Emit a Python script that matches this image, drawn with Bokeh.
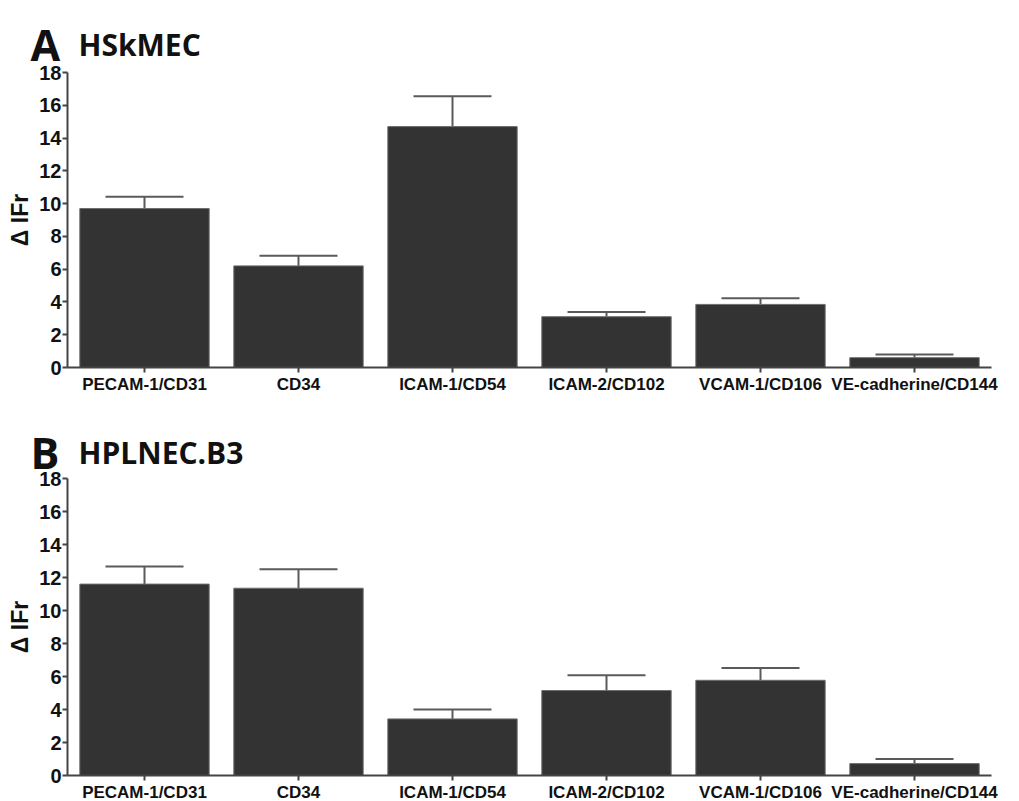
from bokeh.plotting import figure
from bokeh.models import Whisker, TeeHead, ColumnDataSource, Label, Range1d, FixedTicker
from bokeh.layouts import column
from bokeh.embed import file_html
from bokeh.resources import INLINE

categories = ["PECAM-1/CD31", "CD34", "ICAM-1/CD54", "ICAM-2/CD102", "VCAM-1/CD106", "VE-cadherine/CD144"]
hskmec_mean = [9.7, 6.2, 14.7, 3.1, 3.85, 0.6]
hskmec_upper = [10.42, 6.82, 16.55, 3.38, 4.22, 0.8]
hplnec_mean = [11.6, 11.35, 3.43, 5.15, 5.77, 0.72]
hplnec_upper = [12.67, 12.5, 4.0, 6.08, 6.52, 1.0]
y_ticks = [0, 2, 4, 6, 8, 10, 12, 14, 16, 18]
Y_MAX = 18

BAR = "#323332"
ERR = "#5a5a5a"
AXIS = "#444444"
FONT = "Liberation Sans"

positions = list(range(len(categories)))

# layout in pixels
FIG_W = 1011
AXIS_X = 67          # pixel of the y axis line
CAT_W = 154          # pixels per category


def make_panel(letter, name, means, uppers, fig_h, top_px, zero_px, title_base_px):
    ppu = (zero_px - top_px) / Y_MAX
    y_end = Y_MAX + top_px / ppu
    y_start = -(fig_h - zero_px) / ppu
    x_start = -0.5 - AXIS_X / CAT_W
    x_end = -0.5 + (FIG_W - AXIS_X) / CAT_W
    p = figure(width=FIG_W, height=fig_h, output_backend="svg",
               toolbar_location=None, min_border=0,
               min_border_left=0, min_border_right=0,
               min_border_top=0, min_border_bottom=0)
    p.x_range = Range1d(x_start, x_end)
    p.y_range = Range1d(y_start, y_end)
    src = ColumnDataSource(dict(x=positions, mean=means, upper=uppers))
    p.vbar(x="x", top="mean", width=0.84, source=src, fill_color=BAR,
           line_color="#6e6e6e", line_width=1)
    w = Whisker(base="x", upper="upper", lower="mean", source=src,
                line_color=ERR, line_width=2,
                upper_head=TeeHead(size=78, line_color=ERR, line_width=2),
                lower_head=None)
    p.add_layout(w)

    p.grid.visible = False
    p.outline_line_color = None
    p.background_fill_color = "white"

    p.yaxis.fixed_location = -0.5
    p.yaxis.bounds = (0, Y_MAX)
    p.yaxis.ticker = FixedTicker(ticks=y_ticks)
    p.yaxis.minor_tick_line_color = None
    p.yaxis.major_tick_in = 0
    p.yaxis.major_tick_out = 5
    p.yaxis.axis_line_width = 2
    p.yaxis.axis_line_color = AXIS
    p.yaxis.major_tick_line_color = AXIS
    p.yaxis.major_tick_line_width = 2
    p.yaxis.major_label_text_font = FONT
    p.yaxis.major_label_text_font_style = "bold"
    p.yaxis.major_label_text_font_size = "20px"
    p.yaxis.major_label_text_color = "#111111"
    p.yaxis.major_label_standoff = 1
    p.yaxis.axis_label = "\u0394 IFr"
    p.yaxis.axis_label_text_font = FONT
    p.yaxis.axis_label_text_font_style = "bold"
    p.yaxis.axis_label_text_font_size = "23px"
    p.yaxis.axis_label_text_color = "#111111"
    p.yaxis.axis_label_standoff = 3

    p.xaxis.fixed_location = 0
    p.xaxis.bounds = (-0.5, len(categories) - 0.5)
    p.xaxis.ticker = FixedTicker(ticks=positions)
    p.xaxis.major_label_overrides = {i: c for i, c in zip(positions, categories)}
    p.xaxis.minor_tick_line_color = None
    p.xaxis.major_tick_in = 0
    p.xaxis.major_tick_out = 5
    p.xaxis.axis_line_width = 2
    p.xaxis.axis_line_color = AXIS
    p.xaxis.major_tick_line_color = AXIS
    p.xaxis.major_tick_line_width = 2
    p.xaxis.major_label_text_font = FONT
    p.xaxis.major_label_text_font_style = "bold"
    p.xaxis.major_label_text_font_size = "17px"
    p.xaxis.major_label_text_color = "#111111"
    p.xaxis.major_label_standoff = 2

    p.add_layout(Label(x=30, y=fig_h - title_base_px, x_units="screen", y_units="screen",
                       text=letter, text_font="Open Sans", text_font_style="bold",
                       text_font_size="43px", text_color="#111111",
                       text_baseline="alphabetic"))
    p.add_layout(Label(x=78, y=fig_h - title_base_px, x_units="screen", y_units="screen",
                       text=name, text_font="Open Sans", text_font_style="bold",
                       text_font_size="30px", text_color="#111111",
                       text_baseline="alphabetic"))
    return p


pa = make_panel("A", "HSkMEC", hskmec_mean, hskmec_upper, 403, 72, 367, 44)
pb = make_panel("B", "HPLNEC.B3", hplnec_mean, hplnec_upper, 398, 75, 372, 49)

layout = column(pa, pb, spacing=0)
open("out.html", "w").write(file_html(layout, INLINE))
